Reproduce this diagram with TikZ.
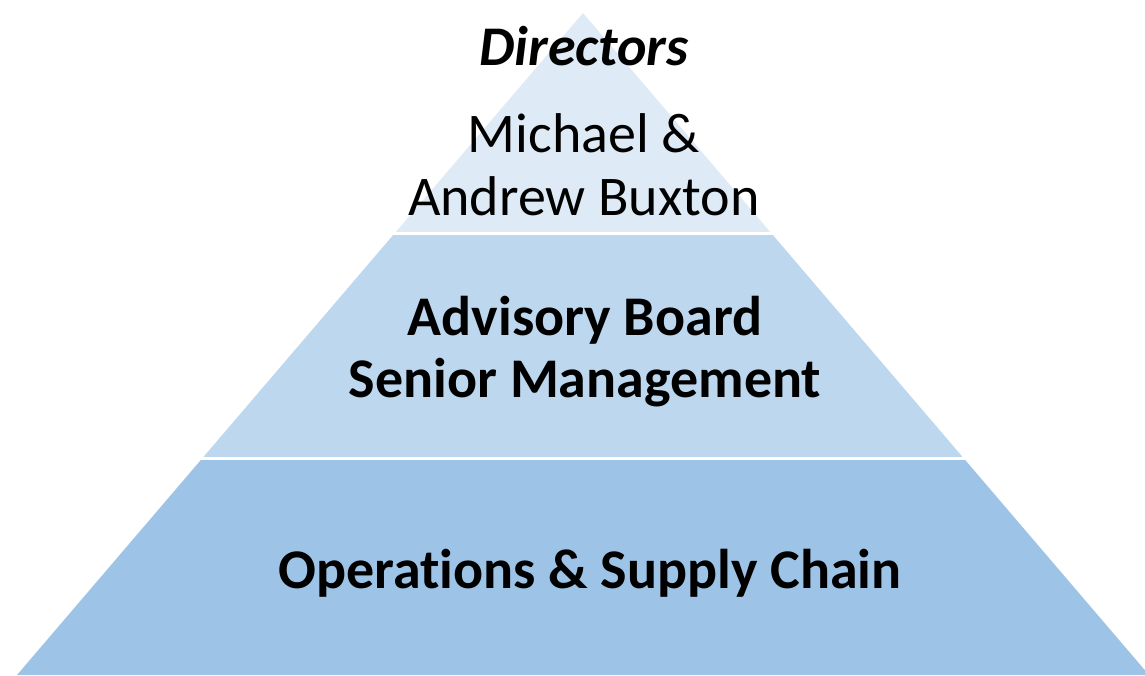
\documentclass[tikz,border=0pt]{standalone}
\usepackage{fontspec}
\setmainfont[Ligatures=NoCommon]{Carlito}
\definecolor{tierA}{HTML}{DEEBF7}
\definecolor{tierB}{HTML}{BDD7EE}
\definecolor{tierC}{HTML}{9DC3E6}
\tikzset{
  lbl/.style={anchor=base, inner sep=0pt, font=\fontsize{56}{63}\selectfont},
  gapline/.style={white, line width=3pt}
}
\begin{document}
\begin{tikzpicture}[x=1pt,y=-1pt]
\useasboundingbox (0,0) rectangle (1145,675);
\coordinate (apex) at (583,13);
\coordinate (bl) at (17,675);
\coordinate (br) at (1149,675);
\begin{scope}
  \clip (0,0) rectangle (1145,233.5);
  \fill[tierA] (apex) -- (bl) -- (br) -- cycle;
\end{scope}
\begin{scope}
  \clip (0,233.5) rectangle (1145,458.5);
  \fill[tierB] (apex) -- (bl) -- (br) -- cycle;
\end{scope}
\begin{scope}
  \clip (0,458.5) rectangle (1145,675);
  \fill[tierC] (apex) -- (bl) -- (br) -- cycle;
\end{scope}
\draw[gapline] (0,233.5) -- (1145,233.5);
\draw[gapline] (0,458.5) -- (1145,458.5);
\node[lbl, font=\fontsize{56}{63}\selectfont\bfseries\itshape] (dir) at (584,65) {Directors};
\node[lbl] (mich) at (584,152) {Michael \&};
\node[lbl] (andr) at (584,215) {Andrew Buxton};
\node[lbl, font=\fontsize{56}{63}\selectfont\bfseries] (adv) at (585,335) {Advisory Board};
\node[lbl, font=\fontsize{56}{63}\selectfont\bfseries] (sen) at (585,397) {Senior Management};
\node[lbl, font=\fontsize{56}{63}\selectfont\bfseries] (ops) at (590,588) {Operations \& Supply Chain};
\end{tikzpicture}
\end{document}
